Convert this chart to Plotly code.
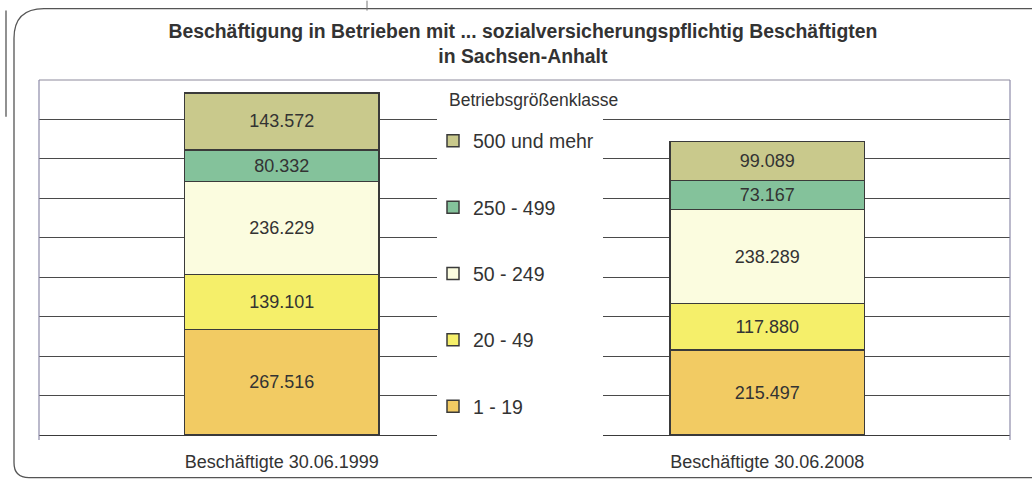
import plotly.graph_objects as go

# ---- data ----
categories = ["Beschäftigte 30.06.1999", "Beschäftigte 30.06.2008"]
classes = ["1 - 19", "20 - 49", "50 - 249", "250 - 499", "500 und mehr"]
v_1_19 = [267516, 215497]
v_20_49 = [139101, 117880]
v_50_249 = [236229, 238289]
v_250_499 = [80332, 73167]
v_500 = [143572, 99089]
series = [v_1_19, v_20_49, v_50_249, v_250_499, v_500]
colors = ["#f2cb63", "#f5ef6a", "#fbfcdf", "#84c29b", "#c9c98c"]
grid_vals = [100000 * i for i in range(1, 9)]
legend_title = "Betriebsgrößenklasse"

W, H = 1032, 484
L, R, T, B = 39, 22, 80, 46
PW, PH = W - L - R, H - T - B


def px(x):
    return (x - L) / PW


def py(y):
    return (H - B - y) / PH


FONT = "Liberation Sans, Arial, sans-serif"

fig = go.Figure()
n = len(classes)
for i, (name, vals, col) in enumerate(zip(classes, series, colors)):
    fig.add_trace(go.Bar(
        x=[0, 1], y=vals, name=name, width=0.4,
        marker=dict(color=col, line=dict(color="#3a3a3a", width=1.5)),
        texttemplate="%{y:,}", textposition="inside", insidetextanchor="middle",
        textangle=0, constraintext="none",
        textfont=dict(size=18, color="#333333", family=FONT),
        legendgroup=f"g{i}", legendrank=n - i, hoverinfo="skip",
    ))

shapes = []
# white band behind legend (hides gridlines there)
shapes.append(dict(type="rect", xref="paper", yref="paper",
                   x0=px(437), x1=px(603), y0=py(446), y1=py(81),
                   fillcolor="white", line=dict(width=0), layer="above"))
# plot area frame
shapes.append(dict(type="line", xref="paper", yref="paper",
                   x0=px(39), x1=px(1010), y0=py(80), y1=py(80),
                   line=dict(color="#8d8a9c", width=1), layer="above"))
shapes.append(dict(type="line", xref="paper", yref="paper",
                   x0=px(39), x1=px(39), y0=py(80), y1=py(443),
                   line=dict(color="#8d8aa8", width=1.2), layer="above"))
shapes.append(dict(type="line", xref="paper", yref="paper",
                   x0=px(1010), x1=px(1010), y0=py(80), y1=py(443),
                   line=dict(color="#8d8aa8", width=1.2), layer="above"))
# outer rounded frame
path = (f"M {px(1045)},{py(8)} L {px(44)},{py(8)} Q {px(14)},{py(8)} {px(14)},{py(38)} "
        f"L {px(14)},{py(466)} Q {px(14)},{py(481)} {px(29)},{py(481)} L {px(1045)},{py(481)}")
shapes.append(dict(type="path", xref="paper", yref="paper", path=path,
                   line=dict(color="#555555", width=1.3), layer="above"))
# scan artefact lines
shapes.append(dict(type="line", xref="paper", yref="paper",
                   x0=px(6), x1=px(6), y0=py(10), y1=py(117),
                   line=dict(color="#555555", width=1.3), layer="above"))
shapes.append(dict(type="line", xref="paper", yref="paper",
                   x0=px(367), x1=px(367), y0=py(0), y1=py(10),
                   line=dict(color="#777777", width=1), layer="above"))

annotations = [dict(text=legend_title, xref="paper", yref="paper",
                    x=px(447), y=py(100), xanchor="left", yanchor="middle",
                    showarrow=False, font=dict(size=17.5, color="#333333", family=FONT))]

fig.update_layout(
    width=W, height=H,
    margin=dict(l=L, r=R, t=T, b=B),
    paper_bgcolor="white", plot_bgcolor="white",
    barmode="stack",
    separators=",.",
    font=dict(family=FONT, color="#333333"),
    title=dict(text="<b>Beschäftigung in Betrieben mit ... sozialversicherungspflichtig Beschäftigten<br>in Sachsen-Anhalt</b>",
               x=px(531), xanchor="center", y=1 - 38 / H, yanchor="middle",
               font=dict(size=19.4, color="#333333", family=FONT)),
    xaxis=dict(range=[-0.5, 1.5], tickvals=[0, 1], ticktext=categories,
               showgrid=False, zeroline=False, showline=True, linecolor="#3a3a3a",
               linewidth=1.3, ticks="", ticklabelstandoff=10,
               tickfont=dict(size=18, color="#333333", family=FONT), fixedrange=True),
    yaxis=dict(range=[0, 900000], tickvals=grid_vals, showticklabels=False,
               showgrid=True, gridcolor="#4a4a4a", gridwidth=1, zeroline=False,
               showline=False, fixedrange=True),
    legend=dict(x=px(433), xanchor="left", y=py(122), yanchor="top",
                bgcolor="rgba(0,0,0,0)", borderwidth=0,
                traceorder="grouped", tracegroupgap=38,
                font=dict(size=19.5, color="#333333", family=FONT),
                itemwidth=30),
    shapes=shapes,
    annotations=annotations,
    showlegend=True,
)

fig.write_html("out.html", config={"displayModeBar": False},
               post_script="document.body.style.margin='0';")
